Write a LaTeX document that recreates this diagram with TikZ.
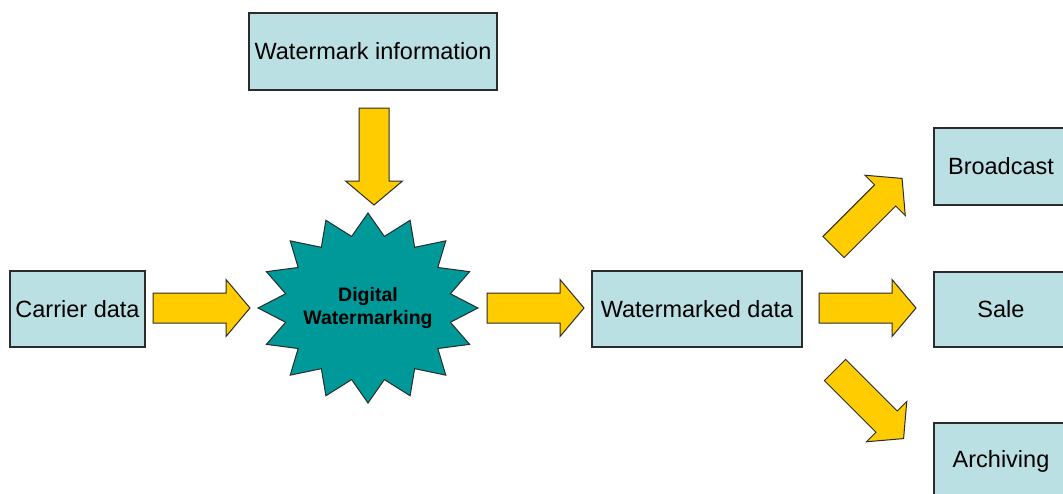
\documentclass[tikz,border=0pt]{standalone}
\usepackage{fontspec}
\setmainfont{Liberation Sans}
\definecolor{boxfill}{HTML}{BBE0E3}
\definecolor{arrowfill}{HTML}{FFCC00}
\definecolor{burst}{HTML}{009999}
\definecolor{edge}{HTML}{2B2B2B}
\tikzset{
  stage/.style={draw=edge, line width=1.2pt, fill=boxfill, inner sep=0pt,
    font=\fontsize{23.5}{28}\selectfont},
  pics/blockarrow/.style={code={
    \draw[draw=edge, line width=1pt, fill=arrowfill, line join=miter]
      (0,-15) -- (73,-15) -- (73,-28.5) -- (97,0) -- (73,28.5) -- (73,15) -- (0,15) -- cycle;
  }}
}
\begin{document}
\begin{tikzpicture}[x=1pt,y=-1pt]
\useasboundingbox (0,0) rectangle (1063,493);
\clip (0,0) rectangle (1063,493);

% boxes
\node[stage, minimum width=248pt, minimum height=77pt] (wmi) at (373,51.5) {Watermark information};
\node[stage, minimum width=135pt, minimum height=76pt] (carrier) at (77.5,309) {Carrier data};
\node[stage, minimum width=210pt, minimum height=76pt] (wmd) at (697,309) {Watermarked data};
\node[stage, minimum width=134pt, minimum height=77pt] (broadcast) at (1001,166.5) {Broadcast};
\node[stage, minimum width=134pt, minimum height=75pt] (sale) at (1001,309.5) {Sale};
\node[stage, minimum width=134pt, minimum height=76pt] (archiving) at (1001,461) {Archiving};

% sixteen-point burst
\begin{scope}[shift={(368,308)}]
  \draw[draw=edge, line width=1pt, fill=burst, line join=miter]
    (90:110 and 95)
    \foreach \i [evaluate=\i as \rx using {ifthenelse(mod(\i,2)==0,110,84)},
                 evaluate=\i as \ry using {ifthenelse(mod(\i,2)==0,95,73)}] in {1,...,31}
      { -- ({90+\i*11.25}:\rx\space and \ry) } -- cycle;
\end{scope}
\node[font=\bfseries\fontsize{19.5}{23}\selectfont, align=center] (dw) at (368,308) {Digital\\Watermarking};

% block arrows
\pic at (153,308) {blockarrow};
\pic[rotate=-90] at (374,108) {blockarrow};
\pic at (487,308) {blockarrow};
\pic at (819,308) {blockarrow};
\pic[rotate=45] at (833.5,247) {blockarrow};
\pic[rotate=-45] at (835,370) {blockarrow};
\end{tikzpicture}
\end{document}
